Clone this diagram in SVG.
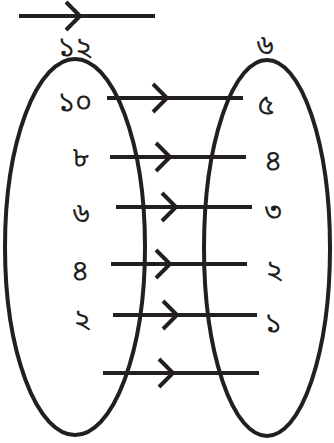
<svg xmlns="http://www.w3.org/2000/svg" width="334" height="443" viewBox="0 0 334 443">
<style>
.l{stroke:#231f20;stroke-width:4;fill:none}
.c{stroke:#231f20;stroke-width:4;fill:none;stroke-linejoin:miter}
.e{stroke:#231f20;stroke-width:4;fill:none}
text{font-family:"Noto Sans Bengali","Noto Sans","DejaVu Sans",sans-serif;font-size:29px;fill:#231f20;text-anchor:middle}
</style>
<rect width="334" height="443" fill="#fff"/>
<g id="setA">
<ellipse class="e" cx="75" cy="247" rx="70" ry="188"/>
<text x="75" y="57">১২</text>
<text x="75" y="112">১০</text>
<text x="81" y="167">৮</text>
<text x="81" y="223">৬</text>
<text x="80" y="280">৪</text>
<text x="82" y="329">২</text>
</g>
<g id="setB">
<ellipse class="e" cx="267" cy="248" rx="63" ry="188"/>
<text x="265" y="55">৬</text>
<text x="266" y="115">৫</text>
<text x="273" y="170">৪</text>
<text x="273" y="221">৩</text>
<text x="274" y="280">২</text>
<text x="273" y="333">১</text>
</g>
<g id="connectors">
<line class="l" x1="19" y1="16" x2="155" y2="16"/>
<path class="c" d="M66 2 L80 16 L66 30"/>
<line class="l" x1="107" y1="98" x2="243" y2="98"/>
<path class="c" d="M153 84 L167 98 L153 112"/>
<line class="l" x1="110" y1="157" x2="246" y2="157"/>
<path class="c" d="M156 143 L170 157 L156 171"/>
<line class="l" x1="116" y1="207" x2="252" y2="207"/>
<path class="c" d="M162 193 L176 207 L162 221"/>
<line class="l" x1="111" y1="264" x2="247" y2="264"/>
<path class="c" d="M156 250 L170 264 L156 278"/>
<line class="l" x1="113" y1="315" x2="257" y2="315"/>
<path class="c" d="M163 301 L177 315 L163 329"/>
<line class="l" x1="103" y1="373" x2="259" y2="373"/>
<path class="c" d="M159 359 L173 373 L159 387"/>
</g>
</svg>
